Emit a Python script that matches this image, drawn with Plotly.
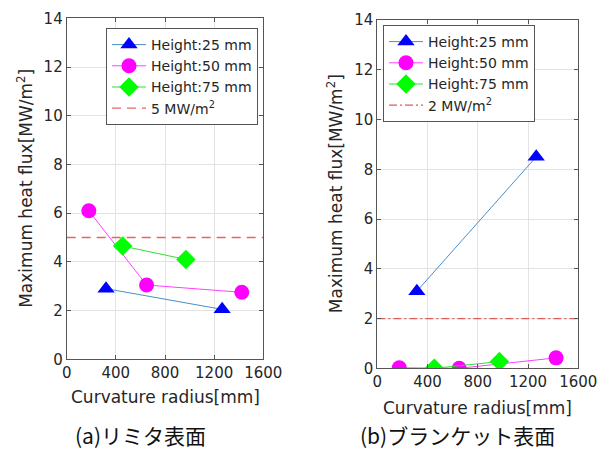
import plotly.graph_objects as go

# ---- data ----
x_ticks = [0, 400, 800, 1200, 1600]
y_ticks = [0, 2, 4, 6, 8, 10, 12, 14]

# (a) limiter surface
a_h25_x = [320, 1265]
a_h25_y = [2.9, 2.05]
a_h50_x = [180, 650, 1425]
a_h50_y = [6.1, 3.05, 2.75]
a_h75_x = [455, 970]
a_h75_y = [4.65, 4.1]
a_limit = 5

# (b) blanket surface
b_h25_x = [315, 1265]
b_h25_y = [3.1, 8.5]
b_h50_x = [175, 652, 1423]
b_h50_y = [0.02, 0.0, 0.42]
b_h75_x = [454, 972]
b_h75_y = [0.0, 0.27]
b_limit = 2

names = ["Height:25 mm", "Height:50 mm", "Height:75 mm"]
caption_a = "(a)リミタ表面"
caption_b = "(b)ブランケット表面"

FONT = "DejaVu Sans"
TXT = "#262626"

# page body has an 8px margin; figure is sized to fit the window
OFF = 8
W, H = 608 - OFF, 450 - OFF

def px(x):
    return (x - OFF) / W

def py(y):
    return 1 - (y - OFF) / H

fig = go.Figure()

styles = [
    dict(line_color="#4a8fc6", mcolor="#0000ff", symbol="triangle-up", size=15),
    dict(line_color="#ff40ff", mcolor="#ff00ff", symbol="circle", size=15),
    dict(line_color="#33dd33", mcolor="#00ff00", symbol="diamond", size=15),
]

def add_panel(xs, ys, limit, dash, lcolor, xa, ya, legend):
    for (x, y), nm, st in zip(zip(xs, ys), names, styles):
        fig.add_trace(go.Scatter(
            x=x, y=y, name=nm, mode="lines+markers",
            line=dict(color=st["line_color"], width=1),
            marker=dict(color=st["mcolor"], symbol=st["symbol"], size=st["size"],
                        line=dict(width=0)),
            xaxis=xa, yaxis=ya, legend=legend,
        ))
    fig.add_trace(go.Scatter(
        x=[x_ticks[0], x_ticks[-1]], y=[limit, limit],
        name=f"{limit} MW/m<sup>2</sup>", mode="lines",
        line=dict(color=lcolor, width=1.3, dash=dash),
        xaxis=xa, yaxis=ya, legend=legend,
    ))

add_panel([a_h25_x, a_h50_x, a_h75_x], [a_h25_y, a_h50_y, a_h75_y], a_limit,
          "9px,6px", "#e86464", "x", "y", "legend")
add_panel([b_h25_x, b_h50_x, b_h75_x], [b_h25_y, b_h50_y, b_h75_y], b_limit,
          "8px,3px,2px,3px", "#e05a5a", "x2", "y2", "legend2")

axis_common = dict(
    showgrid=True, gridcolor="#e3e3e3", gridwidth=1,
    showline=True, linecolor="#555555", linewidth=1, mirror="ticks",
    ticks="inside", ticklen=4, tickcolor="#555555",
    tickfont=dict(family=FONT, size=15, color=TXT),
    zeroline=False, automargin=False,
)

dom_a_x = [px(66.7), px(263.3)]
dom_a_y = [py(359.3), py(18.3)]
dom_b_x = [px(377.3), px(578.3)]
dom_b_y = [py(368.3), py(20.0)]

legend_common = dict(
    xanchor="left", yanchor="top",
    bordercolor="#555555", borderwidth=1, bgcolor="white",
    font=dict(family=FONT, size=14, color=TXT),
    itemwidth=34, tracegroupgap=0,
)

fig.update_layout(
    template="none",
    width=W, height=H,
    margin=dict(l=0, r=0, t=0, b=0, pad=0),
    paper_bgcolor="white", plot_bgcolor="white",
    showlegend=True,
    xaxis=dict(domain=dom_a_x, anchor="y", range=[0, 1600], tickvals=x_ticks, **axis_common),
    yaxis=dict(domain=dom_a_y, anchor="x", range=[0, 14], tickvals=y_ticks, **axis_common),
    xaxis2=dict(domain=dom_b_x, anchor="y2", range=[0, 1600], tickvals=x_ticks, **axis_common),
    yaxis2=dict(domain=dom_b_y, anchor="x2", range=[0, 14], tickvals=y_ticks, **axis_common),
    legend=dict(x=px(106), y=py(28), **legend_common),
    legend2=dict(x=px(383), y=py(25), **legend_common),
)

ann_font = dict(family=FONT, size=17, color=TXT)
annotations = [
    dict(text="Maximum heat flux[MW/m<sup>2</sup>]", x=px(25), y=(dom_a_y[0]+dom_a_y[1])/2,
         xref="paper", yref="paper", textangle=-90, showarrow=False, font=ann_font,
         xanchor="center", yanchor="middle"),
    dict(text="Maximum heat flux[MW/m<sup>2</sup>]", x=px(335), y=(dom_b_y[0]+dom_b_y[1])/2,
         xref="paper", yref="paper", textangle=-90, showarrow=False, font=ann_font,
         xanchor="center", yanchor="middle"),
    dict(text="Curvature radius[mm]", x=(dom_a_x[0]+dom_a_x[1])/2, y=py(397),
         xref="paper", yref="paper", showarrow=False, font=ann_font,
         xanchor="center", yanchor="middle"),
    dict(text="Curvature radius[mm]", x=(dom_b_x[0]+dom_b_x[1])/2, y=py(408),
         xref="paper", yref="paper", showarrow=False, font=ann_font,
         xanchor="center", yanchor="middle"),
    dict(text=caption_a, x=px(140), y=py(435), xref="paper", yref="paper",
         showarrow=False, xanchor="center", yanchor="middle",
         font=dict(family="Noto Sans CJK JP", size=21, color="#111111")),
    dict(text=caption_b, x=px(457), y=py(435), xref="paper", yref="paper",
         showarrow=False, xanchor="center", yanchor="middle",
         font=dict(family="Noto Sans CJK JP", size=21, color="#111111")),
]
fig.update_layout(annotations=annotations)

fig.write_html("out.html")
